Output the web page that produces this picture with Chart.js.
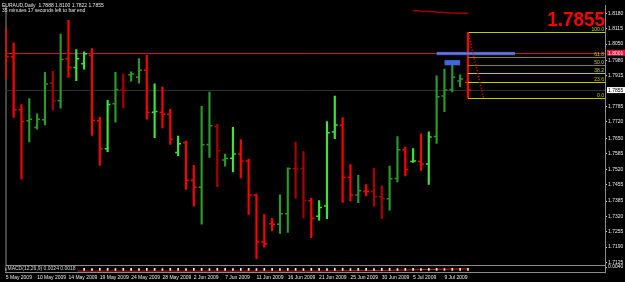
<!DOCTYPE html>
<html>
<head>
<meta charset="utf-8">
<script src="https://cdn.jsdelivr.net/npm/chart.js@4/dist/chart.umd.min.js"></script>
<style>
  html, body { margin: 0; padding: 0; background: #000; }
  #wrap { width: 625px; height: 282px; }
</style>
</head>
<body>
<div id="wrap"><canvas id="c" role="img" aria-label="EURAUD daily bars, May - July 2009"></canvas></div>
<script>
// EURAUD, Daily — one bar per trading day (Sunday bars included)
const days = [
  '5 May 2009', '6 May 2009', '7 May 2009', '8 May 2009', '10 May 2009', '11 May 2009',
  '12 May 2009', '13 May 2009', '14 May 2009', '15 May 2009', '17 May 2009', '18 May 2009',
  '19 May 2009', '20 May 2009', '21 May 2009', '22 May 2009', '24 May 2009', '25 May 2009',
  '26 May 2009', '27 May 2009', '28 May 2009', '29 May 2009', '31 May 2009', '1 Jun 2009',
  '2 Jun 2009', '3 Jun 2009', '4 Jun 2009', '5 Jun 2009', '7 Jun 2009', '8 Jun 2009',
  '9 Jun 2009', '10 Jun 2009', '11 Jun 2009', '12 Jun 2009', '14 Jun 2009', '15 Jun 2009',
  '16 Jun 2009', '17 Jun 2009', '18 Jun 2009', '19 Jun 2009', '21 Jun 2009', '22 Jun 2009',
  '23 Jun 2009', '24 Jun 2009', '25 Jun 2009', '26 Jun 2009', '28 Jun 2009', '29 Jun 2009',
  '30 Jun 2009', '1 Jul 2009', '2 Jul 2009', '3 Jul 2009', '5 Jul 2009', '6 Jul 2009',
  '7 Jul 2009', '8 Jul 2009', '9 Jul 2009', '10 Jul 2009', '12 Jul 2009', '13 Jul 2009'
];

const open = [
  1.8047, 1.7996, 1.7772, 1.7725, 1.7697, 1.7729, 1.7884, 1.7810, 1.7988, 1.7951,
  1.7967, 1.8002, 1.7725, 1.7607, 1.7797, 1.7855, 1.7920, 1.7909, 1.7939, 1.7761,
  1.7761, 1.7753, 1.7591, 1.7632, 1.7473, 1.7444, 1.7625, 1.7702, 1.7559, 1.7566,
  1.7584, 1.7555, 1.7411, 1.7212, 1.7289, 1.7287, 1.7331, 1.7523, 1.7523, 1.7386,
  1.7321, 1.7364, 1.7677, 1.7706, 1.7486, 1.7411, 1.7427, 1.7425, 1.7403, 1.7395,
  1.7481, 1.7602, 1.7553, 1.7553, 1.7542, 1.7658, 1.7830, 1.7858, 1.7893, 1.7888
];
const high = [
  1.8119, 1.8054, 1.7794, 1.7819, 1.7754, 1.7930, 1.7934, 1.8092, 1.8151, 1.8027,
  1.8017, 1.8031, 1.7740, 1.7812, 1.7930, 1.7923, 1.7932, 1.7989, 1.8002, 1.7881,
  1.7868, 1.7773, 1.7660, 1.7639, 1.7536, 1.7786, 1.7847, 1.7710, 1.7584, 1.7697,
  1.7645, 1.7563, 1.7415, 1.7328, 1.7312, 1.7411, 1.7526, 1.7635, 1.7595, 1.7397,
  1.7387, 1.7722, 1.7830, 1.7739, 1.7540, 1.7494, 1.7455, 1.7524, 1.7450, 1.7533,
  1.7658, 1.7614, 1.7607, 1.7670, 1.7678, 1.7915, 1.7944, 1.7971, 1.7920, 1.8100
];
const low = [
  1.7902, 1.7739, 1.7478, 1.7635, 1.7690, 1.7708, 1.7770, 1.7778, 1.7909, 1.7895,
  1.7944, 1.7663, 1.7536, 1.7594, 1.7719, 1.7780, 1.7893, 1.7884, 1.7732, 1.7653,
  1.7695, 1.7625, 1.7577, 1.7434, 1.7363, 1.7287, 1.7570, 1.7446, 1.7533, 1.7508,
  1.7483, 1.7328, 1.7141, 1.7190, 1.7259, 1.7248, 1.7252, 1.7397, 1.7314, 1.7230,
  1.7304, 1.7310, 1.7649, 1.7379, 1.7386, 1.7378, 1.7407, 1.7363, 1.7310, 1.7346,
  1.7466, 1.7491, 1.7549, 1.7515, 1.7455, 1.7629, 1.7764, 1.7847, 1.7870, 1.7822
];
const close = [
  1.7996, 1.7772, 1.7722, 1.7731, 1.7731, 1.7881, 1.7810, 1.7985, 1.7951, 1.7988,
  1.8009, 1.7727, 1.7607, 1.7794, 1.7858, 1.7853, 1.7923, 1.7939, 1.7761, 1.7764,
  1.7753, 1.7646, 1.7628, 1.7473, 1.7444, 1.7623, 1.7704, 1.7598, 1.7565, 1.7584,
  1.7555, 1.7411, 1.7212, 1.7204, 1.7287, 1.7331, 1.7523, 1.7521, 1.7387, 1.7312,
  1.7358, 1.7674, 1.7707, 1.7486, 1.7411, 1.7429, 1.7425, 1.7403, 1.7396, 1.7479,
  1.7602, 1.7519, 1.7555, 1.7542, 1.7656, 1.7827, 1.7855, 1.7909, 1.7902, 1.7855
];

// moving average that only comes into view at the top right
const maTop = [
  null, null, null, null, null, null, null, null, null, null,
  null, null, null, null, null, null, null, null, null, null,
  null, null, null, null, null, null, null, null, null, null,
  null, null, null, null, null, null, null, null, null, null,
  null, null, null, null, null, null, null, null, null, null,
  null, null, 1.8192, 1.8189, 1.8188, 1.8186, 1.8184, 1.8182, 1.8180, 1.8180
];

// MACD(12,26,9) sub window
const macdMain = [
  0.0023, 0.0024, 0.0023, 0.0024, 0.0024, 0.0023, 0.0024, 0.0024, 0.0023, 0.0024,
  0.0024, 0.0023, 0.0024, 0.0024, 0.0023, 0.0024, 0.0024, 0.0023, 0.0024, 0.0024,
  0.0023, 0.0024, 0.0024, 0.0023, 0.0024, 0.0024, 0.0023, 0.0024, 0.0024, 0.0023,
  0.0024, 0.0024, 0.0023, 0.0024, 0.0024, 0.0023, 0.0024, 0.0024, 0.0023, 0.0024,
  0.0024, 0.0023, 0.0024, 0.0024, 0.0023, 0.0024, 0.0024, 0.0023, 0.0024, 0.0024,
  0.0023, 0.0024, 0.0024, 0.0023, 0.0024, 0.0024, 0.0023, 0.0024, 0.0024, 0.0024
];
const macdSignal = [
  -0.0009, -0.0009, -0.0009, -0.0009, -0.0009, -0.0009, -0.0009, -0.0009, -0.0009, -0.0009,
  -0.0009, -0.0009, -0.0009, -0.0009, -0.0009, -0.0009, -0.0009, -0.0009, -0.0009, -0.0009,
  -0.0009, -0.0009, -0.0009, -0.0009, -0.0009, -0.0009, -0.0009, -0.0009, -0.0009, -0.0009,
  -0.0009, -0.0009, -0.0009, -0.0009, -0.0009, -0.0009, -0.0009, -0.0009, -0.0009, -0.0009,
  -0.0009, -0.0008, -0.0007, -0.0006, -0.0005, -0.0004, -0.0003, -0.0002, -0.0001, 0.0000,
  0.0002, 0.0004, 0.0006, 0.0008, 0.0010, 0.0012, 0.0014, 0.0015, 0.0017, 0.0018
];

const priceTicks = [
  1.8180, 1.8115, 1.8050, 1.7980, 1.7915, 1.7785, 1.7720, 1.7650,
  1.7585, 1.7520, 1.7455, 1.7385, 1.7320, 1.7255, 1.7190, 1.7125
];
const macdTicks = [0.0040];

// objects drawn on the chart
const fibLevels = [0, 23.6, 38.2, 50.0, 61.8, 100.0];
const levelPrice = 1.8013;
const levelText = '1.8001';
const trendEndBar = 61;
const zones = [
  { from: 55, to: 65, top: 1.8017, bottom: 1.8003 },
  { from: 56, to: 58, top: 1.7982, bottom: 1.7960 }
];

// styles
const shade = 'llldddddll' + 'llllddddll' + 'lllllddddl' + 'lllllddddl' + 'llllldlddd' + 'dllllddddl';
const UP_LIGHT = '#3ae63a', UP_DARK = '#2a9a2a', DN_LIGHT = '#ff0000', DN_DARK = '#ae0000';
const FONT = '"Liberation Sans", Arial, sans-serif';
const TICK_SHIFT = 0.23; // open/close ticks, in bars

const LAST = close.length - 1;
const idx = days.map((d, i) => i);
const barColor = idx.map(i => close[i] >= open[i]
  ? (shade[i] === 'd' ? UP_DARK : UP_LIGHT)
  : (shade[i] === 'd' ? DN_DARK : DN_LIGHT));
const fibHigh = high[LAST], fibLow = low[LAST];

Chart.defaults.font.family = FONT;
Chart.defaults.font.size = 5;
Chart.defaults.color = '#e8e8e8';

function hline(ctx, x0, x1, yy) {
  ctx.beginPath(); ctx.moveTo(x0, yy); ctx.lineTo(x1, yy); ctx.stroke();
}

function axisTag(ctx, area, w, yy, text, bg, fg) {
  ctx.fillStyle = bg;
  ctx.fillRect(area.right + 2, yy - 3, w - area.right - 2, 6);
  ctx.fillStyle = fg;
  ctx.font = '5px ' + FONT;
  ctx.textAlign = 'left';
  ctx.textBaseline = 'middle';
  ctx.fillText(text, area.right + 3, yy + 0.5);
}

// terminal style extras: lines, fibo, boxes, captions
const terminalOverlay = {
  id: 'terminalOverlay',
  beforeDatasetsDraw(chart) {
    const { ctx, chartArea: area, scales: { y } } = chart;
    ctx.save();
    ctx.lineWidth = 1;
    ctx.strokeStyle = '#8c8c8c';
    ctx.beginPath(); ctx.moveTo(area.left + 0.5, area.top); ctx.lineTo(area.left + 0.5, area.bottom); ctx.stroke();
    hline(ctx, area.left, area.right, Math.round(y.bottom) + 0.5);
    ctx.strokeStyle = '#2e2e2e';
    hline(ctx, area.left, area.right, Math.round(y.getPixelForValue(close[LAST])) + 0.5);
    ctx.strokeStyle = '#c8143c';
    hline(ctx, area.left, area.right, Math.round(y.getPixelForValue(levelPrice)) + 0.5);
    ctx.restore();
  },
  afterDatasetsDraw(chart) {
    const { ctx, chartArea: area, scales: { x, y } } = chart;
    ctx.save();

    zones.forEach(z => {
      const x0 = x.getPixelForValue(z.from), x1 = x.getPixelForValue(z.to);
      const y0 = y.getPixelForValue(z.top), y1 = y.getPixelForValue(z.bottom);
      ctx.fillStyle = '#3f66dc';
      ctx.fillRect(x0, y0, x1 - x0, y1 - y0);
    });
    // level line shows through the upper box
    ctx.globalAlpha = 0.5;
    ctx.strokeStyle = '#e070c0';
    const ly = Math.round(y.getPixelForValue(levelPrice)) + 0.5;
    hline(ctx, x.getPixelForValue(zones[0].from), x.getPixelForValue(zones[0].to), ly);
    ctx.globalAlpha = 1;

    // fibonacci retracement on the last bar
    const fx0 = x.getPixelForValue(LAST);
    ctx.font = '5px ' + FONT;
    ctx.textAlign = 'right';
    ctx.textBaseline = 'alphabetic';
    fibLevels.forEach(p => {
      const py = Math.round(y.getPixelForValue(fibLow + (fibHigh - fibLow) * p / 100)) + 0.5;
      ctx.strokeStyle = (p === 50 || p === 61.8) ? '#8a8a00' : '#c8c800';
      hline(ctx, fx0, area.right, py);
      ctx.fillStyle = '#c8c800';
      ctx.fillText(p.toFixed(1), area.right - 1, py - 1.5);
    });
    ctx.strokeStyle = '#ff0000';
    ctx.lineWidth = 1.5;
    ctx.setLineDash([1, 2]);
    ctx.beginPath();
    ctx.moveTo(x.getPixelForValue(LAST), y.getPixelForValue(fibHigh));
    ctx.lineTo(x.getPixelForValue(trendEndBar), y.getPixelForValue(fibLow));
    ctx.stroke();
    ctx.setLineDash([]);

    // big last price
    ctx.save();
    ctx.translate(area.right, 26);
    ctx.scale(0.9, 1);
    ctx.font = 'bold 21px ' + FONT;
    ctx.fillStyle = '#ff0000';
    ctx.textAlign = 'right';
    ctx.fillText(close[LAST].toFixed(4), 0, 0);
    ctx.restore();

    // price tags on the axis
    axisTag(ctx, area, chart.width, y.getPixelForValue(levelPrice), levelText, '#dc143c', '#ffffff');
    axisTag(ctx, area, chart.width, y.getPixelForValue(close[LAST]), close[LAST].toFixed(4), '#ffffff', '#000000');

    // header lines
    ctx.font = '5px ' + FONT;
    ctx.textAlign = 'left';
    ctx.textBaseline = 'middle';
    ctx.fillStyle = '#e6e6e6';
    ctx.fillText('EURAUD,Daily  ' + [open[LAST], high[LAST], low[LAST], close[LAST]].map(v => v.toFixed(4)).join(' '), 2, 6);
    ctx.fillText('35 minutes 17 seconds left to bar end', 2, 11);

    // sub window caption
    const cap = 'MACD(12,26,9) ' + macdMain[LAST].toFixed(4) + ' ' + macdSignal[LAST].toFixed(4);
    const m = chart.scales.m;
    const cy = (m.top + m.bottom) / 2;
    ctx.fillStyle = '#000';
    ctx.fillRect(area.left + 1, m.top + 1, ctx.measureText(cap).width + 3, m.bottom - m.top - 1);
    ctx.fillStyle = '#d8d8d8';
    ctx.fillText(cap, area.left + 2, cy);
    ctx.restore();
  }
};

new Chart(document.getElementById('c'), {
  type: 'bar',
  data: {
    datasets: [
      {
        type: 'bar',
        data: idx.map(i => ({ x: i, y: [low[i], high[i]] })),
        backgroundColor: barColor,
        borderWidth: 0,
        barThickness: 1.5,
        grouped: false,
        xAxisID: 'x', yAxisID: 'y'
      },
      {
        type: 'scatter',
        data: idx.map(i => ({ x: i - TICK_SHIFT, y: open[i] })),
        pointStyle: 'line', pointRadius: 1.1, pointBorderWidth: 1.5,
        pointBorderColor: barColor,
        xAxisID: 'x', yAxisID: 'y'
      },
      {
        type: 'scatter',
        data: idx.map(i => ({ x: i + TICK_SHIFT, y: close[i] })),
        pointStyle: 'line', pointRadius: 1.1, pointBorderWidth: 1.5,
        pointBorderColor: barColor,
        xAxisID: 'x', yAxisID: 'y'
      },
      {
        type: 'line',
        data: idx.filter(i => maTop[i] !== null).map(i => ({ x: i, y: maTop[i] })),
        borderColor: '#a00000', borderWidth: 1.5, pointRadius: 0,
        xAxisID: 'x', yAxisID: 'y'
      },
      {
        type: 'bar',
        data: idx.map(i => ({ x: i, y: macdMain[i] })),
        backgroundColor: '#f0f0f0',
        borderWidth: 0,
        barThickness: 1,
        grouped: false,
        xAxisID: 'x', yAxisID: 'm'
      },
      {
        type: 'line',
        data: idx.map(i => ({ x: i, y: macdSignal[i] })),
        borderColor: '#ff0000', borderWidth: 1, pointRadius: 0,
        xAxisID: 'x', yAxisID: 'm'
      }
    ]
  },
  options: {
    responsive: true,
    maintainAspectRatio: false,
    animation: false,
    layout: { padding: 0 },
    plugins: { legend: { display: false }, tooltip: { enabled: false } },
    scales: {
      x: {
        type: 'linear',
        min: -0.038,
        max: 76.496,
        bounds: 'data',
        offset: false,
        position: 'bottom',
        grid: { display: false, drawTicks: true, tickLength: 2 },
        border: { color: '#8c8c8c' },
        ticks: {
          align: 'start', autoSkip: false, maxRotation: 0, padding: 1,
          color: '#e8e8e8', font: { size: 5 },
          callback: v => days[v]
        },
        afterBuildTicks: s => { s.ticks = idx.filter(i => i % 4 === 0).map(i => ({ value: i })); },
        afterFit: s => { s.height = 10; s.paddingLeft = 0; s.paddingRight = 0; }
      },
      y: {
        type: 'linear',
        position: 'right',
        stack: 'win',
        stackWeight: 265,
        min: 1.711355,
        max: 1.82133,
        bounds: 'data',
        beginAtZero: false,
        grid: { drawOnChartArea: false, drawTicks: true, tickLength: 2, color: '#c8c8c8' },
        border: { color: '#8c8c8c' },
        ticks: { autoSkip: false, padding: 1, color: '#e8e8e8', font: { size: 5 }, callback: v => v.toFixed(4) },
        afterBuildTicks: s => { s.ticks = priceTicks.map(v => ({ value: v })); },
        afterFit: s => { s.width = 20; s.paddingTop = 0; s.paddingBottom = 0; }
      },
      m: {
        type: 'linear',
        position: 'right',
        stack: 'win',
        stackWeight: 7,
        min: -0.00204,
        max: 0.00636,
        bounds: 'data',
        beginAtZero: false,
        grid: { drawOnChartArea: false, drawTicks: true, tickLength: 2, color: '#c8c8c8' },
        border: { color: '#8c8c8c' },
        ticks: { autoSkip: false, padding: 1, color: '#e8e8e8', font: { size: 5 }, callback: v => v.toFixed(4) },
        afterBuildTicks: s => { s.ticks = macdTicks.map(v => ({ value: v })); },
        afterFit: s => { s.width = 20; s.paddingTop = 0; s.paddingBottom = 0; }
      }
    }
  },
  plugins: [terminalOverlay]
});
</script>
</body>
</html>
